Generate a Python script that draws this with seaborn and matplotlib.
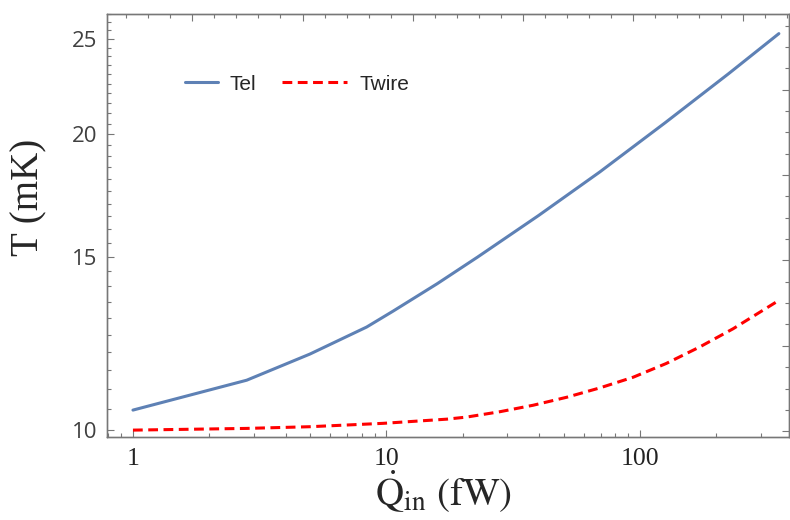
import numpy as np
import matplotlib
matplotlib.use('Agg')
import matplotlib.pyplot as plt
import matplotlib.ticker as ticker
import seaborn as sns

# heat load (fW) and temperatures (mK)
q_tel = [1, 2.81, 4.99, 8.35, 10.6, 15.85, 22.9, 39.8, 69.5, 125.9, 223.9, 353]
t_el = [10.48, 11.24, 11.95, 12.73, 13.21, 14.09, 15.0, 16.53, 18.31, 20.55, 23.05, 25.31]

q_wire = [1, 2.81, 4.99, 9.71, 17.3, 20.7, 28, 37.9, 51.4, 69.5, 94.1, 127, 172, 233, 353]
t_wire = [10.0, 10.04, 10.08, 10.16, 10.26, 10.31, 10.44, 10.60, 10.80, 11.04, 11.32, 11.69,
          12.15, 12.68, 13.55]

y_major = [10, 15, 20, 25]
x_major = [1, 10, 100]
x_labels = ['1', '10', '100']

frame_col = '#777777'
blue = '#5E81B5'

sns.set_style('ticks')
plt.rcParams['font.family'] = ['Open Sans', 'DejaVu Sans']
plt.rcParams['mathtext.fontset'] = 'stix'
plt.rcParams['axes.edgecolor'] = frame_col
plt.rcParams['axes.linewidth'] = 0.9

fig, ax = plt.subplots(figsize=(7.9, 5.2), dpi=100)
fig.subplots_adjust(left=107/790, right=789/790, bottom=83/520, top=506/520)

ax.set_xscale('log')
ax.set_yscale('log')

sns.lineplot(x=q_tel, y=t_el, ax=ax, color=blue, lw=2.2, label='Tel', sort=False)
sns.lineplot(x=q_wire, y=t_wire, ax=ax, color='red', lw=2.2, ls=(0, (3.2, 1.8)),
             label='Twire', sort=False)

ax.set_xlim(0.79, 387)
ax.set_ylim(9.84, 26.48)

# ticks
ax.set_xticks(x_major, labels=x_labels)
x_minor = [0.8, 0.9] + list(range(2, 10)) + list(range(20, 100, 10)) + [200, 300]
ax.set_xticks(x_minor, minor=True)
ax.set_yticks(y_major, labels=[str(v) for v in y_major])
y_minor = [v for v in np.arange(10.5, 26.6, 0.5) if v not in y_major]
ax.set_yticks(y_minor, minor=True)
ax.xaxis.set_minor_formatter(ticker.NullFormatter())
ax.yaxis.set_minor_formatter(ticker.NullFormatter())

ax.tick_params(which='both', direction='in', color=frame_col, width=0.8,
               top=False, right=False)
ax.tick_params(which='major', length=5)
ax.tick_params(which='minor', length=3)
ax.tick_params(axis='y', pad=7, labelsize=16, labelcolor='#404040')
ax.tick_params(axis='x', pad=8, labelsize=18.5, labelcolor='#222222')
for lab in ax.get_xticklabels():
    lab.set_fontfamily('Liberation Serif')

ax.set_ylabel('T (mK)', fontfamily='Liberation Serif', fontsize=28)
ax.yaxis.set_label_coords(-0.088, 0.567)
ax.set_xlabel(r'$\dot{\mathrm{Q}}_{\mathrm{in}}$ (fW)', fontfamily='STIXGeneral', fontsize=28)
ax.xaxis.set_label_coords(0.493, -0.075)

# legend, two pieces like the original
lines = ax.get_lines()
ax.get_legend().remove()
leg_kw = dict(loc='center left', bbox_transform=fig.transFigure, frameon=False,
              borderpad=0, borderaxespad=0,
              prop={'family': 'Liberation Sans', 'size': 15})
leg1 = ax.legend([lines[0]], ['Tel'], bbox_to_anchor=(185/790, 1 - 84/520),
                 handlelength=1.6, handletextpad=0.55, **leg_kw)
ax.add_artist(leg1)
ax.legend([lines[1]], ['Twire'], bbox_to_anchor=(282/790, 1 - 84/520),
          handlelength=3.1, handletextpad=0.62, **leg_kw)

# unlabeled frame ticks on top and right
ax_top = ax.twiny()
ax_top.set_xscale('log')
ax_top.set_xlim(ax.get_xlim())
ax_top.set_xticks(np.exp(0.54 + np.arange(0, 6)))
ax_top.set_xticks(np.exp(np.arange(-0.26, 5.95, 0.2)), minor=True)

ax_r = ax.twinx()
ax_r.set_yscale('log')
ax_r.set_ylim(ax.get_ylim())
ax_r.set_yticks(np.exp(2.3 + 0.2 * np.arange(0, 6)))
ax_r.set_yticks(np.exp(2.25 + 0.05 * np.arange(0, 22)), minor=True)

for a in (ax_top.xaxis, ax_r.yaxis):
    a.set_major_formatter(ticker.NullFormatter())
    a.set_minor_formatter(ticker.NullFormatter())
for a in (ax_top, ax_r):
    a.tick_params(which='both', direction='in', color=frame_col, width=0.8)
    a.tick_params(which='major', length=5)
    a.tick_params(which='minor', length=3)
ax_r.set_ylim(ax.get_ylim())
ax_top.set_xlim(ax.get_xlim())

fig.savefig('out.png', dpi=100)
